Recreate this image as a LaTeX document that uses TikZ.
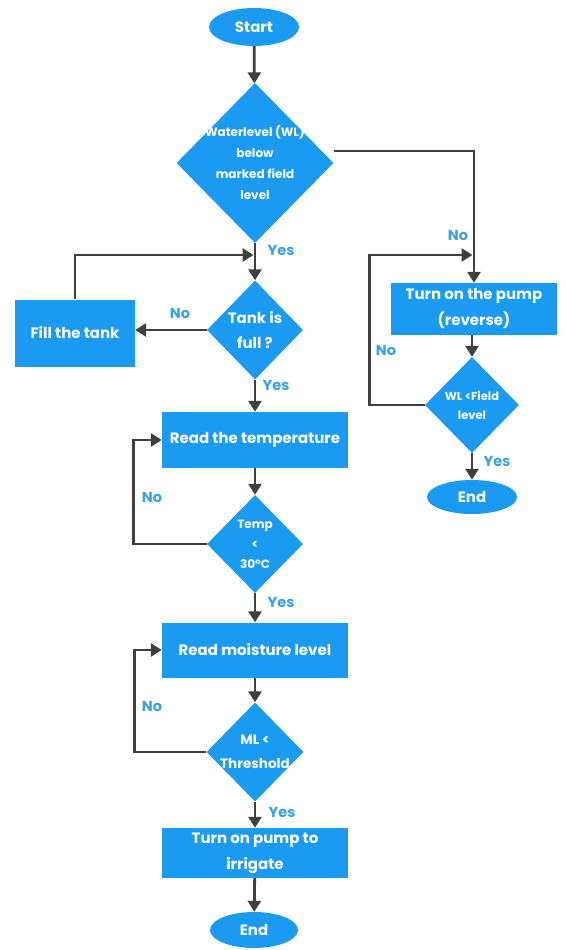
\documentclass[tikz,border=0pt]{standalone}
\usepackage{fontspec}
\setmainfont{Poppins}
\usepackage{xcolor}
\usepackage{tikz}
\usetikzlibrary{calc,shapes.geometric,arrows.meta}
\definecolor{boxblue}{HTML}{1A9AF0}
\definecolor{lineg}{HTML}{3F3F3F}
\definecolor{labblue}{HTML}{3AA0E6}
\tikzset{
  proc/.style={rectangle, fill=boxblue, text=white, font=\bfseries\fontsize{15}{26}\selectfont, align=center, inner sep=2pt},
  cond/.style={diamond, fill=boxblue, text=white, align=center, inner sep=-14pt},
  term/.style={ellipse, fill=boxblue, text=white, font=\bfseries\fontsize{15}{17}\selectfont, inner sep=0pt},
  flow/.style={draw=lineg, line width=2.8pt, -{Triangle[width=13pt,length=11pt]}},
  lab/.style={text=labblue, font=\bfseries\fontsize{14.5}{16}\selectfont},
}

\begin{document}
\begin{tikzpicture}[x=1pt,y=-1pt]
  \useasboundingbox (0,0) rectangle (565,950);
  \node[term, minimum width=90, minimum height=38] (start) at (254,27) {Start};
  \node[cond, minimum width=157, minimum height=160, font=\bfseries\fontsize{12}{21}\selectfont] (d1) at (255,163) {Waterlevel (WL)\\below\\marked field\\level};
  \node[cond, minimum width=96, minimum height=99, font=\bfseries\fontsize{15}{25}\selectfont] (tank) at (255,330) {Tank is\\full ?};
  \node[proc, minimum width=120, minimum height=67] (fill) at (75,333) {Fill the tank};
  \node[proc, minimum width=186, minimum height=56] (temp) at (255,440) {Read the temperature};
  \node[cond, minimum width=96, minimum height=98, font=\bfseries\fontsize{12}{20}\selectfont] (tc) at (255,544) {Temp\\<\\30°C};
  \node[proc, minimum width=186, minimum height=55] (moist) at (255,650) {Read moisture level};
  \node[cond, minimum width=97, minimum height=99, font=\bfseries\fontsize{13.5}{24}\selectfont] (ml) at (255,752) {ML <\\Threshold};
  \node[proc, minimum width=186, minimum height=50] (irr) at (255,853) {Turn on pump to\\irrigate};
  \node[term, minimum width=88, minimum height=36] (end1) at (254,930) {End};
  \node[proc, minimum width=166, minimum height=52] (pump) at (474,309) {Turn on the pump\\(reverse)};
  \node[cond, minimum width=94, minimum height=96, font=\bfseries\fontsize{11.5}{19}\selectfont] (wl) at (472,405) {WL <Field\\level};
  \node[term, minimum width=90, minimum height=34] (end2) at (472,497) {End};

  \coordinate (m1) at (255,255);
  \coordinate (m2) at (474,255);

  \draw[flow] (start) -- (d1);
  \draw[flow] (d1) -- (tank);
  \draw[flow] (fill.north) |- ([xshift=-1.5]m1);
  \draw[flow] (tank.west) -- (tank.west -| fill.east);
  \draw[flow] (tank) -- (temp);
  \draw[flow] (temp) -- (tc);
  \draw[flow] (tc.west) -- ++(-73,0) |- (temp.west);
  \draw[flow] (tc) -- (moist);
  \draw[flow] (moist) -- (ml);
  \draw[flow] (ml.west) -- ++(-72,0) |- (moist.west);
  \draw[flow] (ml) -- (irr);
  \draw[flow] (irr) -- (end1);
  \draw[flow] ([yshift=12]d1.east) -| (pump.north);
  \draw[flow] (pump.south -| wl.north) -- (wl);
  \draw[flow] (wl.west) -- ++(-55,0) |- ([xshift=-1.5]m2);
  \draw[flow] (wl) -- (end2);

  \node[lab] (y1) at (281,250) {Yes};
  \node[lab] (n1) at (180,313) {No};
  \node[lab] (y2) at (276,385) {Yes};
  \node[lab] (n2) at (152,497) {No};
  \node[lab] (y3) at (281,602) {Yes};
  \node[lab] (n3) at (152,706) {No};
  \node[lab] (y4) at (282,812) {Yes};
  \node[lab] (n4) at (458,235) {No};
  \node[lab] (n5) at (386,350) {No};
  \node[lab] (y5) at (497,461) {Yes};
\end{tikzpicture}
\end{document}
